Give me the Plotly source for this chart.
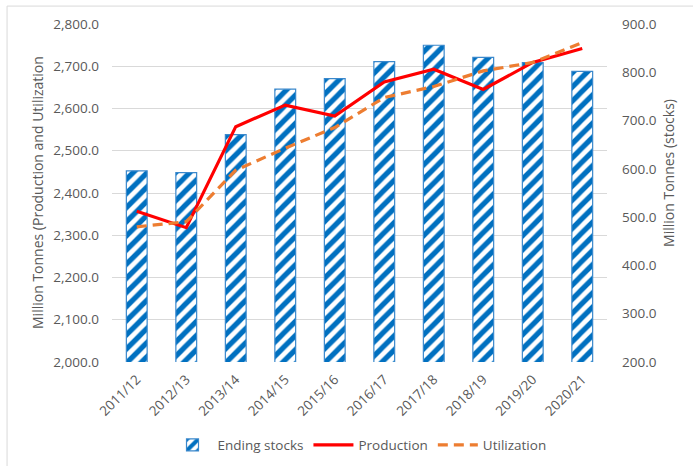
import plotly.graph_objects as go

seasons = ["2011/12", "2012/13", "2013/14", "2014/15", "2015/16",
           "2016/17", "2017/18", "2018/19", "2019/20", "2020/21"]
ending_stocks = [596, 592, 671, 765, 787, 822, 856, 831, 820, 802]
production = [2357, 2318, 2557, 2608, 2582, 2663, 2693, 2645, 2709, 2742]
utilization = [2320, 2332, 2454, 2506, 2555, 2626, 2652, 2689, 2709, 2756]

FONT = "Open Sans"
GREY = "#595959"

fig = go.Figure()

# bars on primary axis (right side), lines on overlaying axis (left side) so lines draw on top
fig.add_trace(go.Bar(
    x=seasons, y=ending_stocks, name="Ending stocks", yaxis="y",
    marker=dict(color="white", line=dict(color="#3A88CC", width=1.2),
                pattern=dict(shape="/", fgcolor="#0070C0", bgcolor="white",
                             size=10, solidity=0.52, fgopacity=1)),
))
fig.add_trace(go.Scatter(
    x=seasons, y=production, name="Production", yaxis="y2", mode="lines",
    line=dict(color="#FF0000", width=3.2),
))
fig.add_trace(go.Scatter(
    x=seasons, y=utilization, name="Utilization", yaxis="y2", mode="lines",
    line=dict(color="#ED7D31", width=3.2, dash="10px,6px"),
))

fig.update_layout(
    width=693, height=466,
    margin=dict(l=112, r=86, t=24, b=104, autoexpand=False),
    paper_bgcolor="white", plot_bgcolor="white",
    font=dict(family=FONT, size=13, color=GREY),
    bargap=0.58,
    showlegend=True,
    legend=dict(orientation="h", x=0.5, xanchor="center", y=-0.246, yanchor="middle",
                font=dict(family=FONT, size=13.5, color=GREY), itemwidth=40,
                traceorder="normal"),
    xaxis=dict(type="category", tickangle=-45, showgrid=False, showline=False,
               ticks="", automargin=False, ticklabelstandoff=6,
               tickfont=dict(size=13.5, color=GREY)),
    yaxis=dict(range=[200, 900], dtick=100, tickformat=".1f", side="right",
               showgrid=False, zeroline=False, showline=False, ticks="",
               automargin=False, ticklabelstandoff=14,
               tickfont=dict(size=13.5, color=GREY)),
    yaxis2=dict(range=[2000, 2800], dtick=100, tickformat=",.1f", side="left",
                overlaying="y", showgrid=True, gridcolor="#D9D9D9", gridwidth=1,
                zeroline=False, showline=False, ticks="", automargin=False,
                ticklabelstandoff=12,
                tickfont=dict(size=13.5, color=GREY)),
    annotations=[
        dict(text="Million Tonnes (Production and Utilization", xref="paper", yref="paper",
             x=-0.1495, y=0.503, textangle=-90, showarrow=False,
             font=dict(family=FONT, size=14, color=GREY), xanchor="center", yanchor="middle"),
        dict(text="Million Tonnes (stocks)", xref="paper", yref="paper",
             x=1.123, y=0.559, textangle=-90, showarrow=False,
             font=dict(family=FONT, size=14, color=GREY), xanchor="center", yanchor="middle"),
    ],
    shapes=[
        dict(type="rect", xref="paper", yref="paper", x0=-0.212, x1=1.3, y0=-0.5, y1=1.053,
             line=dict(color="#D9D9D9", width=1), fillcolor="rgba(0,0,0,0)", layer="below"),
    ],
)

fig.write_html("out.html", config={"displayModeBar": False},
               post_script="document.body.style.margin='0';")
